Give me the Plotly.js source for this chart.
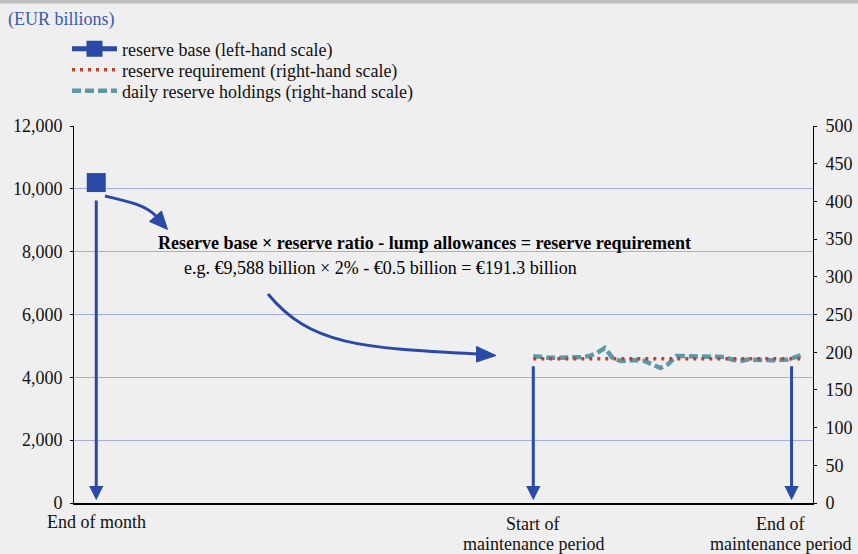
<!DOCTYPE html>
<html>
<head>
<meta charset="utf-8">
<script src="https://cdn.plot.ly/plotly-3.0.1.min.js"></script>
<style>
html,body{margin:0;padding:0;background:#efefef;}
#chart{width:858px;height:554px;}
</style>
</head>
<body>
<div id="chart"></div>
<script>
// ---- data ----
var positionLabelTop = ['End of month', 'Start of', 'End of'];
var positionLabelBottom = ['', 'maintenance period', 'maintenance period'];
var positionDays = [-55, 0, 32.5];           // day positions relative to start of maintenance period
var reserveBaseDay = [-55];
var reserveBaseValue = [10200];               // left-hand scale
var holdingDays = [0,1,2,3,4,5,6,7,8,9,10,11,12,13,14,15,16,17,18,19,20,21,22,23,24,25,26,27,28,29,30,31,32,33,34];
var holdingValues = [194.8,193.6,192.7,192.7,192.7,193.2,193.6,194.8,198.9,205.6,192.3,188.3,189.7,189.7,188.3,183.0,179.0,184.4,194.8,194.8,194.8,194.8,194.8,194.8,193.6,190.3,188.3,190.3,189.7,189.3,189.3,189.7,190.3,193.6,197.0];
var requirementDays = [0, 34];
var requirementValues = [191.3, 191.3];
var leftTicks = [0, 2000, 4000, 6000, 8000, 10000, 12000];
var rightTicks = [0, 50, 100, 150, 200, 250, 300, 350, 400, 450, 500];
var arrowTops = [9680, 4400, 4400];           // left-scale level where each downward arrow begins

// ---- layout geometry ----
var W = 858, H = 554, ML = 74, MR = 45, MT = 126, MB = 51;
var PW = W - ML - MR, PH = H - MT - MB;
function px(x){ return (x - ML) / PW; }
function py(y){ return (H - MB - y) / PH; }
var blue = '#2b4aa6', red = '#c2412f', teal = '#5c98a9';
var serif = 'Liberation Serif';

var traces = [
  {x: reserveBaseDay, y: reserveBaseValue, name: 'reserve base (left-hand scale)', mode: 'lines+markers',
   marker: {symbol: 'square', size: 19, color: blue}, line: {color: blue, width: 5}, legend: 'legend', yaxis: 'y'},
  {x: holdingDays, y: holdingValues, name: 'daily reserve holdings (right-hand scale)', mode: 'lines',
   line: {color: teal, width: 4.5, dash: '9px,4px'}, legend: 'legend3', yaxis: 'y2'},
  {x: requirementDays, y: requirementValues, name: 'reserve requirement (right-hand scale)', mode: 'lines',
   line: {color: red, width: 3.5, dash: '3px,5px'}, legend: 'legend2', yaxis: 'y2'}
];

var annotations = [];
for (var i = 0; i < positionDays.length; i++) {
  annotations.push({x: positionDays[i], y: 90, xref: 'x', yref: 'y', ax: positionDays[i], ay: arrowTops[i],
    axref: 'x', ayref: 'y', text: '', showarrow: true, arrowhead: 2, arrowsize: 0.95, arrowwidth: 3,
    arrowcolor: blue, standoff: 0, startstandoff: 0});
}
var labelX = [positionDays[0], positionDays[1], positionDays[2] - 1.4];
var labelTopY = [522, 524, 524];
for (var j = 0; j < positionDays.length; j++) {
  annotations.push({x: labelX[j], y: py(labelTopY[j]), xref: 'x', yref: 'paper', text: positionLabelTop[j],
    showarrow: false, xanchor: 'center', yanchor: 'middle', borderpad: 0,
    font: {family: serif, size: 18, color: '#111'}});
  if (positionLabelBottom[j]) {
    annotations.push({x: labelX[j], y: py(544), xref: 'x', yref: 'paper', text: positionLabelBottom[j],
      showarrow: false, xanchor: 'center', yanchor: 'middle', borderpad: 0,
      font: {family: serif, size: 18, color: '#111'}});
  }
}
annotations.push({x: px(156), y: py(243), xref: 'paper', yref: 'paper', xanchor: 'left', yanchor: 'middle',
  showarrow: false, text: '<b>Reserve base \u00d7 reserve ratio - lump allowances = reserve requirement</b>',
  font: {family: serif, size: 18, color: '#000'}});
annotations.push({x: px(182), y: py(268), xref: 'paper', yref: 'paper', xanchor: 'left', yanchor: 'middle',
  showarrow: false, text: 'e.g. \u20ac9,588 billion \u00d7 2% - \u20ac0.5 billion = \u20ac191.3 billion',
  font: {family: serif, size: 18, color: '#000'}});

function P(x, y){ return px(x) + ',' + py(y); }
var shapes = [
  {type: 'rect', xref: 'paper', yref: 'paper', x0: px(0), x1: px(W), y0: py(0), y1: py(3.5),
   fillcolor: '#bdbdbd', line: {width: 0}, layer: 'above'},
  {type: 'path', xref: 'paper', yref: 'paper', path: 'M' + P(105,196) + ' C' + P(130,202) + ' ' + P(145,205) + ' ' + P(156,216),
   line: {color: blue, width: 3}},
  {type: 'path', xref: 'paper', yref: 'paper', path: 'M' + P(167.5,229.5) + ' L' + P(149.5,221.5) + ' L' + P(161.5,211) + ' Z',
   fillcolor: blue, line: {color: blue, width: 1}},
  {type: 'path', xref: 'paper', yref: 'paper', path: 'M' + P(268,294) + ' C' + P(310,345) + ' ' + P(360,348) + ' ' + P(478,354),
   line: {color: blue, width: 3}},
  {type: 'path', xref: 'paper', yref: 'paper', path: 'M' + P(496,355.5) + ' L' + P(476.5,346.5) + ' L' + P(476.5,362) + ' Z',
   fillcolor: blue, line: {color: blue, width: 1}}
];

function legendAt(yPix) {
  return {x: px(67), y: py(yPix), xanchor: 'left', yanchor: 'middle', bgcolor: 'rgba(0,0,0,0)',
          font: {family: serif, size: 18, color: '#111'}, itemwidth: 45};
}

var layout = {
  width: W, height: H,
  margin: {l: ML, r: MR, t: MT, b: MB},
  paper_bgcolor: '#efefef', plot_bgcolor: '#efefef',
  font: {family: serif, size: 18, color: '#111'},
  title: {text: '(EUR billions)', x: 8 / W, xanchor: 'left', y: 1 - 19 / H, yanchor: 'middle',
          font: {family: serif, size: 18, color: '#3a5bb3'}},
  showlegend: true,
  legend: legendAt(49),
  legend2: legendAt(70),
  legend3: legendAt(91),
  xaxis: {range: [-57.8, 35.2], showticklabels: false, ticks: '', showgrid: false, zeroline: false,
          showline: true, linecolor: '#000', linewidth: 2, fixedrange: true},
  yaxis: {range: [0, 12000], tickvals: leftTicks, tickformat: ',', showgrid: true, gridcolor: '#a6abe0', gridwidth: 1,
          zeroline: false, showline: true, linecolor: '#000', linewidth: 1, ticks: 'outside', ticklen: 3,
          tickcolor: '#000', ticklabelstandoff: 4, tickfont: {family: serif, size: 18, color: '#111'}},
  yaxis2: {range: [0, 500], tickvals: rightTicks, overlaying: 'y', side: 'right', showgrid: false, zeroline: false,
           showline: true, linecolor: '#000', linewidth: 1, ticks: 'outside', ticklen: 3, tickcolor: '#000',
           ticklabelstandoff: 5, tickfont: {family: serif, size: 18, color: '#111'}},
  annotations: annotations,
  shapes: shapes
};

Plotly.newPlot('chart', traces, layout, {displayModeBar: false, staticPlot: true});
</script>
</body>
</html>
